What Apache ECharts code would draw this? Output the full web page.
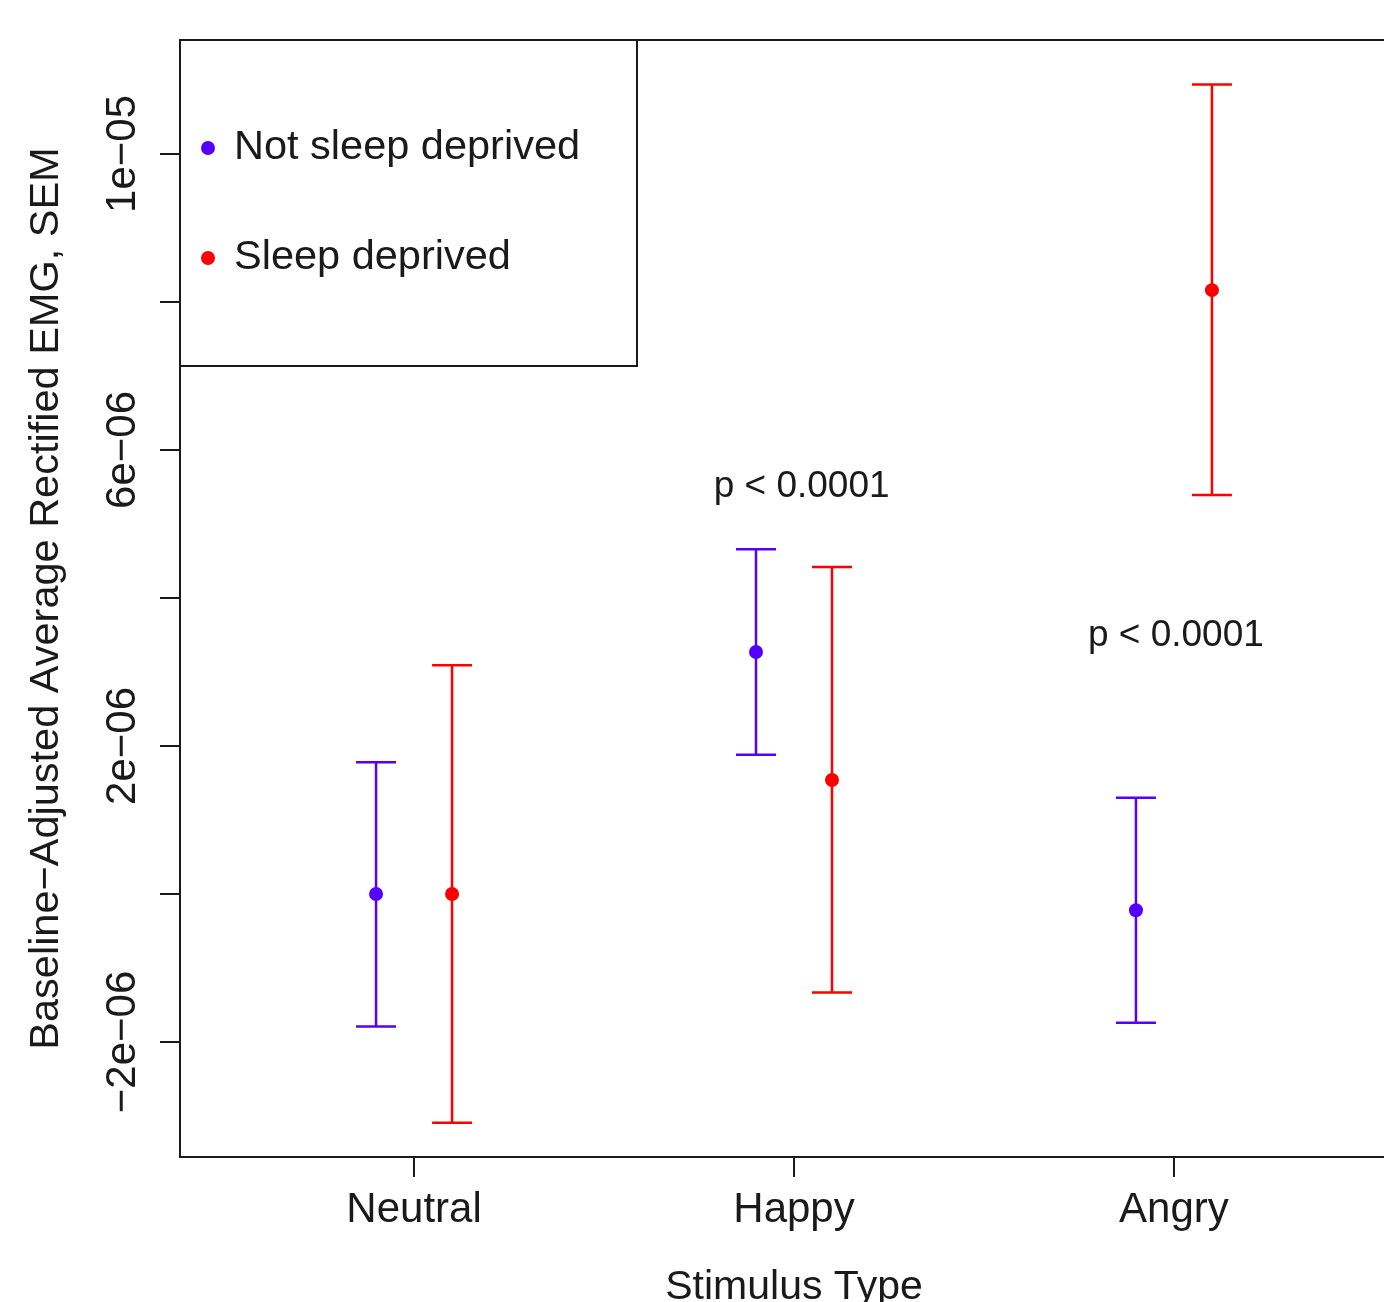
<!DOCTYPE html>
<html>
<head>
<meta charset="utf-8">
<script src="https://cdn.jsdelivr.net/npm/echarts@6/dist/echarts.min.js"></script>
<style>
  html, body { margin: 0; padding: 0; background: #fff; }
  #chart { width: 1384px; height: 1302px; }
</style>
</head>
<body>
<div id="chart"></div>
<script>
// stimulus categories on the x axis (positions 1, 2, 3)
const categories = ['Neutral', 'Happy', 'Angry'];
const groupOffset = 0.1;

// Not sleep deprived: mean and SEM range
const notDeprivedMean = [0, 3.27e-6, -0.22e-6];
const notDeprivedLow  = [-1.79e-6, 1.88e-6, -1.74e-6];
const notDeprivedHigh = [1.78e-6, 4.66e-6, 1.30e-6];

// Sleep deprived: mean and SEM range
const deprivedMean = [0, 1.54e-6, 8.16e-6];
const deprivedLow  = [-3.09e-6, -1.33e-6, 5.39e-6];
const deprivedHigh = [3.09e-6, 4.42e-6, 10.94e-6];

// y axis ticks / labels
const yTickValues = [-2e-6, 0, 2e-6, 4e-6, 6e-6, 8e-6, 1e-5];
const yLabelValues = [-2e-6, 2e-6, 6e-6, 1e-5];
const yLabelTexts = ['\u22122e\u221206', '2e\u221206', '6e\u221206', '1e\u221205'];

// significance annotations [x, y, text]
const annotations = [
  [2.02, 5.50e-6, 'p < 0.0001'],
  [3.005, 3.49e-6, 'p < 0.0001']
];

const BLUE = '#5500ff';
const RED = '#ff0000';
const INK = '#1a1a1a';
const FONT = '"Liberation Sans", Arial, Helvetica, sans-serif';

function points(means, sign) {
  return means.map((m, i) => [i + 1 + sign * groupOffset, m]);
}
function ranges(lows, highs, sign) {
  return lows.map((lo, i) => [i + 1 + sign * groupOffset, lo, highs[i]]);
}

function errorBar(color) {
  return function (params, api) {
    const x = api.value(0);
    const pLo = api.coord([x, api.value(1)]);
    const pHi = api.coord([x, api.value(2)]);
    const hw = 20;
    const style = { stroke: color, lineWidth: 2.5 };
    return {
      type: 'group',
      children: [
        { type: 'line', shape: { x1: pLo[0], y1: pLo[1], x2: pHi[0], y2: pHi[1] }, style: style },
        { type: 'line', shape: { x1: pHi[0] - hw, y1: pHi[1], x2: pHi[0] + hw, y2: pHi[1] }, style: style },
        { type: 'line', shape: { x1: pLo[0] - hw, y1: pLo[1], x2: pLo[0] + hw, y2: pLo[1] }, style: style }
      ]
    };
  };
}

const chart = echarts.init(document.getElementById('chart'));

const option = {
  animation: false,
  backgroundColor: '#fff',
  textStyle: { fontFamily: FONT, color: INK },
  grid: {
    left: 180, top: 40, width: 1228, height: 1117,
    show: true, borderColor: INK, borderWidth: 2,
    containLabel: false, outerBoundsMode: 'none'
  },
  legend: {
    data: ['Not sleep deprived', 'Sleep deprived'],
    orient: 'vertical',
    left: 201,
    top: 127,
    padding: 0,
    itemGap: 68,
    itemWidth: 14,
    itemHeight: 14,
    icon: 'circle',
    selectedMode: false,
    textStyle: { fontSize: 41.5, fontFamily: FONT, color: INK, lineHeight: 42, padding: [0, 0, 0, 14] }
  },
  xAxis: {
    type: 'value',
    min: 0.384,
    max: 3.616,
    name: 'Stimulus Type',
    nameLocation: 'middle',
    nameGap: 110,
    nameTextStyle: { fontSize: 41, fontFamily: FONT, color: INK },
    axisLine: { show: true, onZero: false, lineStyle: { color: INK, width: 2 } },
    axisTick: { show: true, length: 20, customValues: [1, 2, 3], lineStyle: { color: INK, width: 2 } },
    axisLabel: {
      customValues: [1, 2, 3],
      margin: 32,
      fontSize: 42, fontFamily: FONT, color: INK,
      formatter: v => categories[Math.round(v) - 1]
    },
    splitLine: { show: false }
  },
  yAxis: {
    type: 'value',
    min: -3.554e-6,
    max: 11.54e-6,
    name: 'Baseline\u2212Adjusted Average Rectified EMG, SEM',
    nameLocation: 'middle',
    nameGap: 112,
    nameRotate: 90,
    nameTextStyle: { fontSize: 41.5, fontFamily: FONT, color: INK },
    axisLine: { show: true, onZero: false, lineStyle: { color: INK, width: 2 } },
    axisTick: { show: true, length: 20, customValues: yTickValues, lineStyle: { color: INK, width: 2 } },
    axisLabel: {
      customValues: yLabelValues,
      rotate: 90,
      margin: 36,
      fontSize: 42, fontFamily: FONT, color: INK,
      formatter: v => {
        let best = 0;
        yLabelValues.forEach((y, i) => {
          if (Math.abs(y - v) < Math.abs(yLabelValues[best] - v)) best = i;
        });
        return yLabelTexts[best];
      }
    },
    splitLine: { show: false }
  },
  graphic: [
    {
      type: 'rect',
      shape: { x: 180, y: 40, width: 457, height: 326 },
      style: { fill: null, stroke: INK, lineWidth: 2 },
      silent: true
    }
  ],
  series: [
    {
      name: 'Not sleep deprived',
      type: 'scatter',
      symbol: 'circle',
      symbolSize: 14,
      itemStyle: { color: BLUE, opacity: 1 },
      data: points(notDeprivedMean, -1),
      z: 3
    },
    {
      name: 'Sleep deprived',
      type: 'scatter',
      symbol: 'circle',
      symbolSize: 14,
      itemStyle: { color: RED, opacity: 1 },
      data: points(deprivedMean, 1),
      z: 3
    },
    {
      name: 'Not sleep deprived',
      type: 'custom',
      renderItem: errorBar(BLUE),
      itemStyle: { color: BLUE },
      data: ranges(notDeprivedLow, notDeprivedHigh, -1),
      silent: true,
      z: 2
    },
    {
      name: 'Sleep deprived',
      type: 'custom',
      renderItem: errorBar(RED),
      itemStyle: { color: RED },
      data: ranges(deprivedLow, deprivedHigh, 1),
      silent: true,
      z: 2
    },
    {
      name: 'annotations',
      type: 'scatter',
      symbolSize: 0,
      silent: true,
      itemStyle: { opacity: 1 },
      data: annotations,
      label: {
        show: true,
        position: 'inside',
        fontSize: 37, fontFamily: FONT, color: INK, opacity: 1,
        formatter: p => p.data[2]
      }
    }
  ]
};

chart.setOption(option);
</script>
</body>
</html>
